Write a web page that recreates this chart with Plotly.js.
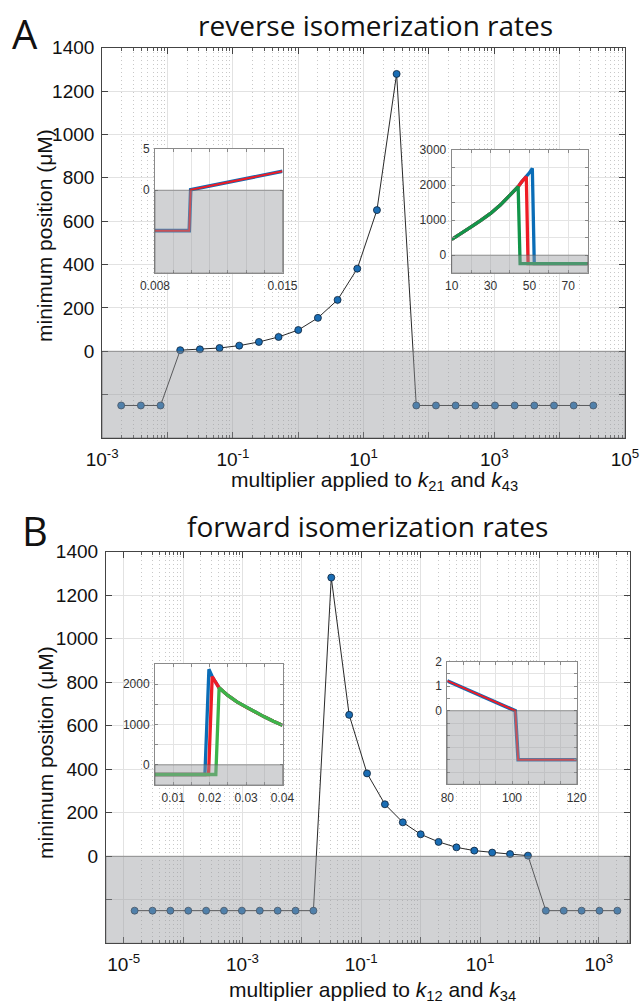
<!DOCTYPE html>
<html><head><meta charset="utf-8">
<script src="https://cdn.plot.ly/plotly-3.0.1.min.js"></script>
<style>html,body{margin:0;padding:0;background:#fff}</style>
</head><body><div id="chart" style="width:640px;height:1003px"></div>
<script>
// ---------------- data ----------------
// Panel A: multiplier applied to k21 and k43
const revMultiplier = [0.001953125, 0.00390625, 0.0078125, 0.015625, 0.03125, 0.0625, 0.125, 0.25, 0.5, 1, 2, 4, 8, 16, 32, 64, 128, 256, 512, 1024, 2048, 4096, 8192, 16384, 32768];
const revMinPos = [-250, -250, -250, 5, 9, 15, 26, 43, 66, 98, 154, 237, 381, 651, 1279, -250, -250, -250, -250, -250, -250, -250, -250, -250, -250];
// Panel B: multiplier applied to k12 and k34
const fwdMultiplier = [0.0000152588, 0.0000305176, 0.0000610352, 0.00012207, 0.00024414, 0.00048828, 0.00097656, 0.001953125, 0.00390625, 0.0078125, 0.015625, 0.03125, 0.0625, 0.125, 0.25, 0.5, 1, 2, 4, 8, 16, 32, 64, 128, 256, 512, 1024, 2048];
const fwdMinPos = [-250, -250, -250, -250, -250, -250, -250, -250, -250, -250, -250, 1281, 650, 381, 239, 156, 101, 66, 41, 26, 17, 10, 3, -250, -250, -250, -250, -250];

// Inset A-left (0.008 - 0.015), blue and red coincide
const revLowX = [0.008, 0.00988, 0.00996, 0.015];
const revLowY = [-4.9, -4.9, 0.05, 2.3];
// Inset A-right (10 - 80)
const revHighGreenX = [10, 15, 20, 25, 30, 35, 40, 44.2, 45.2, 80];
const revHighGreenY = [450, 620, 810, 990, 1190, 1430, 1710, 1955, -240, -240];
const revHighRedX = [10, 15, 20, 25, 30, 35, 40, 44.2, 46, 48.4, 49.3, 80];
const revHighRedY = [450, 620, 810, 990, 1190, 1430, 1710, 1955, 2090, 2238, -240, -240];
const revHighBlueX = [10, 15, 20, 25, 30, 35, 40, 44.2, 46, 48.4, 50, 51.5, 52.5, 80];
const revHighBlueY = [450, 620, 810, 990, 1190, 1430, 1710, 1955, 2090, 2238, 2350, 2476, -240, -240];
// Inset B-left (0.005 - 0.04)
const fwdLowBlueX = [0.005, 0.0187, 0.0198, 0.0207, 0.0226, 0.025, 0.0275, 0.03, 0.0325, 0.035, 0.0375, 0.04];
const fwdLowBlueY = [-240, -240, 2370, 2190, 1910, 1720, 1560, 1430, 1300, 1190, 1080, 980];
const fwdLowRedX = [0.005, 0.0197, 0.0207, 0.0226, 0.025, 0.0275, 0.03, 0.0325, 0.035, 0.0375, 0.04];
const fwdLowRedY = [-240, -240, 2190, 1910, 1720, 1560, 1430, 1300, 1190, 1080, 980];
const fwdLowGreenX = [0.005, 0.0217, 0.0226, 0.025, 0.0275, 0.03, 0.0325, 0.035, 0.0375, 0.04];
const fwdLowGreenY = [-240, -240, 1910, 1720, 1560, 1430, 1300, 1190, 1080, 980];
// Inset B-right (80 - 120), blue and red coincide
const fwdHighX = [80, 85, 90, 95, 101, 101.9, 120];
const fwdHighY = [1.22, 0.93, 0.65, 0.34, 0, -2, -2];

// ---------------- layout helpers ----------------
const W = 640, H = 1003;
const fx = p => p / W;
const fy = p => 1 - p / H;

const BLUE = '#0a6db7', RED = '#ee1c25', GREEN_A = '#12954a', GREEN_B = '#3cb54a';
const SANS = '"Liberation Sans", Arial, Helvetica, sans-serif';
const TICKFONT = {family: SANS, size: 19, color: '#111'};
const INSETFONT = {family: '"Liberation Sans Narrow", "Liberation Sans", Arial, sans-serif', size: 12, color: '#333'};

function decadeTicks(e0, e1, labelParity) {
  const vals = [], text = [], minor = [];
  for (let e = e0; e <= e1; e++) {
    vals.push(Math.pow(10, e));
    text.push(((e % 2) + 2) % 2 === labelParity ? '10<sup>' + e + '</sup>' : '');
    for (let m = 2; m <= 9; m++) minor.push(m * Math.pow(10, e));
  }
  return {vals, text, minor};
}

function mainX(domain, anchor, range, ticks) {
  return {
    type: 'log', domain, anchor, range,
    tickmode: 'array', tickvals: ticks.vals, ticktext: ticks.text,
    showgrid: true, gridcolor: '#e2e2e2', gridwidth: 1,
    ticks: 'inside', ticklen: 6, tickcolor: '#444', tickwidth: 1,
    showline: true, linecolor: '#444', linewidth: 1, mirror: 'allticks',
    minor: {tickmode: 'array', tickvals: ticks.minor, ticks: 'inside', ticklen: 3, tickcolor: '#555',
            showgrid: true, gridcolor: '#c8c8c8', griddash: '1px,3px', gridwidth: 1},
    tickfont: TICKFONT, zeroline: false, ticklabelstandoff: 4
  };
}
function mainY(domain, anchor) {
  const vals = [-200, 0, 200, 400, 600, 800, 1000, 1200, 1400];
  return {
    domain, anchor, range: [-400, 1400],
    tickmode: 'array', tickvals: vals, ticktext: vals.map(v => v < 0 ? '' : String(v)),
    showgrid: true, gridcolor: '#e2e2e2', gridwidth: 1,
    ticks: 'inside', ticklen: 6, tickcolor: '#444', tickwidth: 1,
    showline: true, linecolor: '#444', linewidth: 1, mirror: 'allticks',
    tickfont: TICKFONT, zeroline: false, ticklabelstandoff: 3
  };
}
function insetAxis(domain, anchor, range, vals, labels) {
  return {
    domain, anchor, range,
    tickmode: 'array', tickvals: vals, ticktext: labels,
    showgrid: true, gridcolor: '#e4e4e4', gridwidth: 1,
    ticks: 'inside', ticklen: 3, tickcolor: '#888',
    showline: true, linecolor: '#8a8a8a', linewidth: 1, mirror: 'allticks',
    tickfont: INSETFONT, zeroline: false, ticklabelstandoff: 2
  };
}
const steps = (a, b, s) => { const o = []; for (let i = 0; a + i * s <= b + 1e-12; i++) o.push(+(a + i * s).toFixed(6)); return o; };

// ranges
const revXRange = [-3, 5], fwdXRange = [-5.3, 3.516];
const insetALx = [0.008, 0.015], insetALy = [-10, 5];
const insetARx = [10, 80], insetARy = [-500, 3000];
const insetBLx = [0.005, 0.04], insetBLy = [-500, 2500];
const insetBRx = [80, 120], insetBRy = [-3, 2];

const tA = decadeTicks(-3, 5, 1);
const tB = decadeTicks(-5, 3, 1);

const mainMarker = {size: 7, color: '#1a6db4', line: {color: '#0e2238', width: 0.8}};

const traces = [
  {x: revMultiplier, y: revMinPos, xaxis: 'x', yaxis: 'y', mode: 'lines+markers',
   line: {color: '#111', width: 0.9}, marker: mainMarker},
  {x: fwdMultiplier, y: fwdMinPos, xaxis: 'x2', yaxis: 'y2', mode: 'lines+markers',
   line: {color: '#111', width: 0.9}, marker: mainMarker},
  // inset A-left
  {x: revLowX, y: revLowY, xaxis: 'x3', yaxis: 'y3', mode: 'lines', line: {color: BLUE, width: 3.6}},
  {x: revLowX, y: revLowY, xaxis: 'x3', yaxis: 'y3', mode: 'lines', line: {color: RED, width: 2}},
  // inset A-right
  {x: revHighBlueX, y: revHighBlueY, xaxis: 'x4', yaxis: 'y4', mode: 'lines', line: {color: BLUE, width: 3.3}},
  {x: revHighRedX, y: revHighRedY, xaxis: 'x4', yaxis: 'y4', mode: 'lines', line: {color: RED, width: 3.3}},
  {x: revHighGreenX, y: revHighGreenY, xaxis: 'x4', yaxis: 'y4', mode: 'lines', line: {color: GREEN_A, width: 3.3}},
  // inset B-left
  {x: fwdLowBlueX, y: fwdLowBlueY, xaxis: 'x5', yaxis: 'y5', mode: 'lines', line: {color: BLUE, width: 3.3}},
  {x: fwdLowRedX, y: fwdLowRedY, xaxis: 'x5', yaxis: 'y5', mode: 'lines', line: {color: RED, width: 3.3}},
  {x: fwdLowGreenX, y: fwdLowGreenY, xaxis: 'x5', yaxis: 'y5', mode: 'lines', line: {color: GREEN_B, width: 3.3}},
  // inset B-right
  {x: fwdHighX, y: fwdHighY, xaxis: 'x6', yaxis: 'y6', mode: 'lines', line: {color: BLUE, width: 3.6}},
  {x: fwdHighX, y: fwdHighY, xaxis: 'x6', yaxis: 'y6', mode: 'lines', line: {color: RED, width: 2}}
];

function negShade(xa, ya, yMin, fill) {
  return {type: 'rect', layer: 'above', xref: xa + ' domain', yref: ya, x0: 0, x1: 1, y0: yMin, y1: 0,
          fillcolor: fill, line: {color: 'rgba(90,90,90,0.55)', width: 1}};
}
const SHADE = 'rgba(150,152,156,0.44)';

const annFont = (size, fam) => ({family: fam || '"Open Sans", "Noto Sans", sans-serif', size, color: '#111'});

const layout = {
  width: W, height: H, margin: {l: 0, r: 0, t: 0, b: 0},
  paper_bgcolor: '#fff', plot_bgcolor: '#fff', showlegend: false,
  xaxis: mainX([fx(102.2), fx(625)], 'y', revXRange, tA),
  yaxis: mainY([fy(438), fy(47.7)], 'x'),
  xaxis2: mainX([fx(105.9), fx(629.5)], 'y2', fwdXRange, tB),
  yaxis2: mainY([fy(943.3), fy(551.7)], 'x2'),
  xaxis3: insetAxis([fx(155), fx(282.5)], 'y3', insetALx, steps(0.008, 0.015, 0.001), ['0.008', '', '', '', '', '', '', '0.015']),
  yaxis3: insetAxis([fy(272.7), fy(149)], 'x3', insetALy, [0, 5], ['0', '5']),
  xaxis4: insetAxis([fx(451.7), fx(587.7)], 'y4', insetARx, steps(10, 80, 10), ['10', '', '30', '', '50', '', '70', '']),
  yaxis4: insetAxis([fy(272.7), fy(150)], 'x4', insetARy, steps(0, 3000, 500), ['0', '', '1000', '', '2000', '', '3000']),
  xaxis5: insetAxis([fx(155), fx(282.5)], 'y5', insetBLx, steps(0.005, 0.04, 0.005), ['', '0.01', '', '0.02', '', '0.03', '', '0.04']),
  yaxis5: insetAxis([fy(785), fy(664)], 'x5', insetBLy, steps(0, 2500, 500), ['0', '', '1000', '', '2000', '']),
  xaxis6: insetAxis([fx(447.3), fx(576.7)], 'y6', insetBRx, steps(80, 120, 5), ['80', '', '', '', '100', '', '', '', '120']),
  yaxis6: insetAxis([fy(784.3), fy(661.7)], 'x6', insetBRy, steps(-2.5, 2, 0.5), ['', '', '', '', '', '0', '', '1', '', '2']),
  shapes: [
    negShade('x', 'y', -400, SHADE),
    negShade('x2', 'y2', -400, SHADE),
    negShade('x3', 'y3', insetALy[0], SHADE),
    negShade('x4', 'y4', insetARy[0], SHADE),
    negShade('x5', 'y5', insetBLy[0], SHADE),
    negShade('x6', 'y6', insetBRy[0], SHADE)
  ],
  annotations: [
    {text: 'A', x: fx(25), y: fy(33), xref: 'paper', yref: 'paper', showarrow: false, xanchor: 'center', yanchor: 'middle', font: annFont(40)},
    {text: 'B', x: fx(34.8), y: fy(530), xref: 'paper', yref: 'paper', showarrow: false, xanchor: 'center', yanchor: 'middle', font: annFont(40)},
    {text: 'reverse isomerization rates', x: fx(375), y: fy(25), xref: 'paper', yref: 'paper', showarrow: false, xanchor: 'center', yanchor: 'middle', font: annFont(28)},
    {text: 'forward isomerization rates', x: fx(367.8), y: fy(526), xref: 'paper', yref: 'paper', showarrow: false, xanchor: 'center', yanchor: 'middle', font: annFont(28)},
    {text: 'minimum position (μM)', x: fx(44), y: fy(236), xref: 'paper', yref: 'paper', showarrow: false, textangle: -90, xanchor: 'center', yanchor: 'middle', font: annFont(21, SANS)},
    {text: 'minimum position (μM)', x: fx(45), y: fy(753), xref: 'paper', yref: 'paper', showarrow: false, textangle: -90, xanchor: 'center', yanchor: 'middle', font: annFont(21, SANS)},
    {text: 'multiplier applied to <i>k</i><sub>21</sub> and <i>k</i><sub>43</sub>', x: fx(374), y: fy(481), xref: 'paper', yref: 'paper', showarrow: false, xanchor: 'center', yanchor: 'middle', font: annFont(21, SANS)},
    {text: 'multiplier applied to <i>k</i><sub>12</sub> and <i>k</i><sub>34</sub>', x: fx(372), y: fy(991), xref: 'paper', yref: 'paper', showarrow: false, xanchor: 'center', yanchor: 'middle', font: annFont(21, SANS)}
  ]
};

Plotly.newPlot('chart', traces, layout, {staticPlot: true, displayModeBar: false});
</script>
</body></html>
